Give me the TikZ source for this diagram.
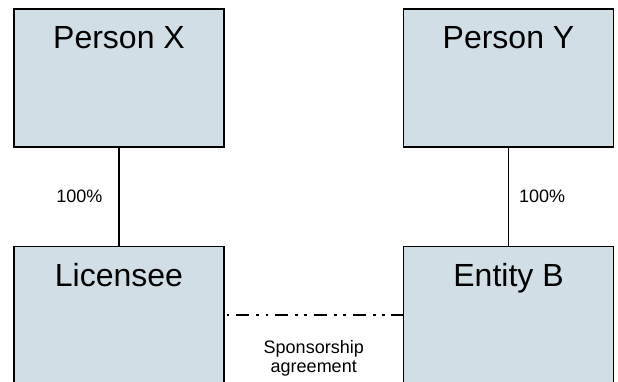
\documentclass[tikz,border=0pt]{standalone}
\usepackage{fontspec}
\setmainfont{Liberation Sans}
\usetikzlibrary{positioning}
\definecolor{boxfill}{RGB}{209,222,229}
\begin{document}
\begin{tikzpicture}[x=1pt, y=-1pt,
        party/.style = {draw, line width=1.6pt, fill=boxfill, rectangle,
            minimum width=210pt, minimum height=137.5pt, inner sep=0pt},
        partyname/.style = {font=\fontsize{32}{38}\selectfont, inner sep=0pt, anchor=north},
        small/.style = {font=\fontsize{18}{19.5}\selectfont, align=center, inner sep=0pt},
        owns/.style = {line width=1.2pt},
        sponsor/.style = {line width=2pt,
            dash pattern=on 13pt off 7.5pt on 2.5pt off 6.7pt on 2.5pt off 6.7pt, dash phase=27.9pt}]
        \useasboundingbox (0, 0) rectangle (618, 381);
        \clip (0, 0) rectangle (618, 381);
        % owners
        \node [party] (px) at (119, 78) {};
        \node [party] (py) at (508.5, 78) {};
        \node [partyname] (pxname) at ([yshift=-17.5pt] px.north) {Person X};
        \node [partyname] (pyname) at ([yshift=-17.5pt] py.north) {Person Y};
        % entities
        \node [party] (lic) at (119, 315.25) {};
        \node [party] (entb) at (508.5, 315.25) {};
        \node [partyname] (licname) at ([yshift=-17.5pt] lic.north) {Licensee};
        \node [partyname] (entbname) at ([yshift=-17.5pt] entb.north) {Entity B};
        % ownership
        \draw [owns] (px) -- node [small, left=16pt] (pxshare) {100\%} (lic);
        \draw [owns] (py) -- node [small, right=10pt] (pyshare) {100\%} (entb);
        % agreement
        \draw [sponsor] (lic.east) -- node [small, below=24pt] (deal) {Sponsorship\\agreement} (entb.west);
    \end{tikzpicture}
\end{document}
